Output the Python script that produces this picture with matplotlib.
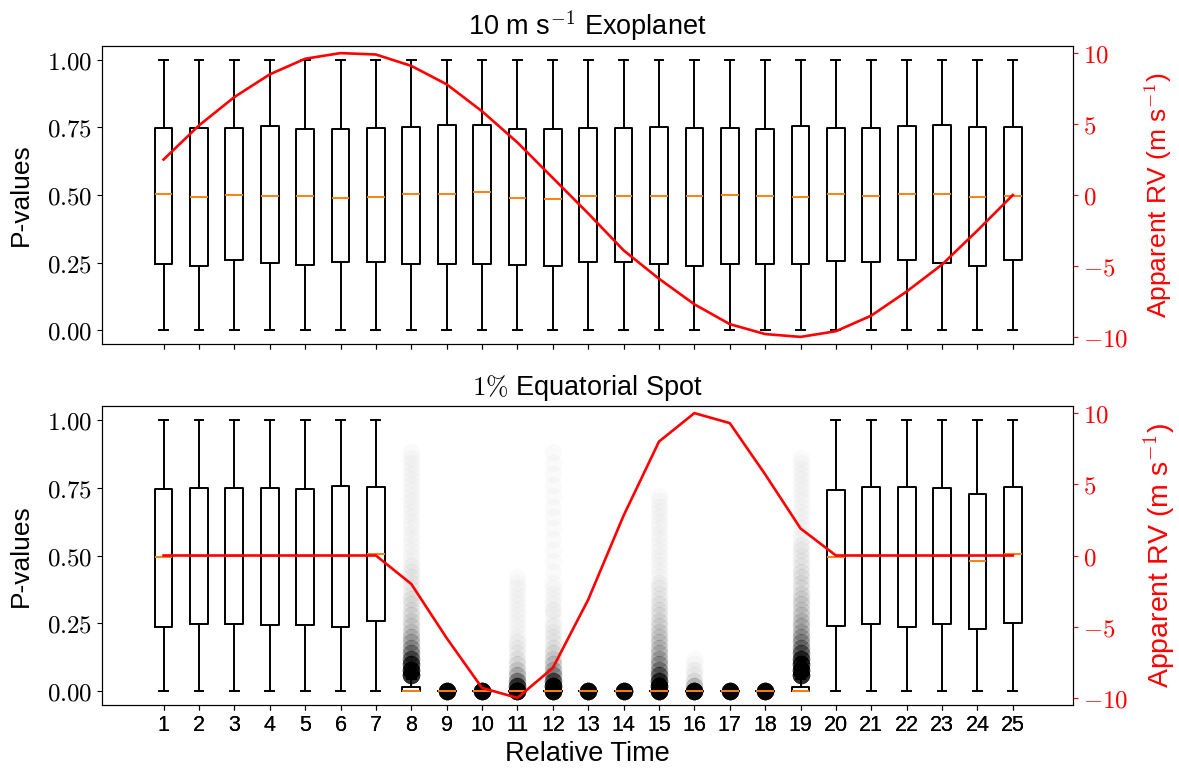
import numpy as np
import matplotlib
matplotlib.use('Agg')
import matplotlib.pyplot as plt
from matplotlib.ticker import FuncFormatter

plt.rcParams['mathtext.fontset'] = 'cm'
plt.rcParams['font.family'] = ['Liberation Sans', 'DejaVu Sans']

times = list(range(1, 26))

# 10 m/s planet: p-value quartiles per epoch, and the injected RV signal
planet_q1 = [0.244, 0.238, 0.259, 0.249, 0.241, 0.251, 0.254, 0.244, 0.246, 0.247,
             0.241, 0.238, 0.252, 0.254, 0.244, 0.238, 0.244, 0.247, 0.247, 0.256,
             0.252, 0.259, 0.249, 0.237, 0.260]
planet_med = [0.505, 0.494, 0.500, 0.496, 0.498, 0.488, 0.494, 0.502, 0.502, 0.510,
              0.490, 0.485, 0.498, 0.495, 0.495, 0.498, 0.500, 0.495, 0.491, 0.502,
              0.498, 0.502, 0.502, 0.493, 0.498]
planet_q3 = [0.749, 0.746, 0.749, 0.753, 0.744, 0.744, 0.748, 0.751, 0.757, 0.759,
             0.743, 0.744, 0.749, 0.747, 0.752, 0.749, 0.748, 0.744, 0.753, 0.749,
             0.747, 0.753, 0.759, 0.751, 0.751]
planet_rv = [2.5, 4.9, 6.9, 8.5, 9.6, 10.0, 9.9, 9.1, 7.8, 5.9, 3.7, 1.2, -1.3,
             -3.9, -5.9, -7.7, -9.1, -9.8, -10.0, -9.6, -8.5, -6.8, -4.9, -2.5, 0.0]

# 1% equatorial spot
spot_q1 = [0.238, 0.247, 0.247, 0.244, 0.243, 0.237, 0.259, 0.0, 0.0, 0.0,
           0.0, 0.0, 0.0, 0.0, 0.0, 0.0, 0.0, 0.0, 0.0, 0.241,
           0.248, 0.238, 0.247, 0.228, 0.252]
spot_med = [0.494, 0.500, 0.500, 0.500, 0.500, 0.500, 0.504, 0.002, 0.0, 0.0,
            0.0, 0.0, 0.0, 0.0, 0.0, 0.0, 0.0, 0.0, 0.002, 0.494,
            0.500, 0.498, 0.498, 0.478, 0.505]
spot_q3 = [0.743, 0.748, 0.748, 0.748, 0.746, 0.757, 0.753, 0.016, 0.0, 0.0,
           0.0, 0.0, 0.0, 0.0, 0.0, 0.0, 0.0, 0.0, 0.016, 0.740,
           0.751, 0.753, 0.748, 0.728, 0.753]
spot_whishi = [1.0, 1.0, 1.0, 1.0, 1.0, 1.0, 1.0, 0.045, 0.0, 0.0,
               0.0, 0.0, 0.0, 0.0, 0.0, 0.0, 0.0, 0.0, 0.045, 1.0,
               1.0, 1.0, 1.0, 1.0, 1.0]
spot_rv = [0.0, 0.0, 0.0, 0.0, 0.0, 0.0, 0.0, -2.0, -5.8, -9.3, -10.0, -7.9, -3.1,
           2.8, 8.0, 10.0, 9.3, 5.7, 1.9, 0.0, 0.0, 0.0, 0.0, 0.0, 0.0]

# outlier p-values, binned: number of outliers in each bin
flier_bins = [0.00, 0.02, 0.04, 0.06, 0.08, 0.10, 0.12, 0.14, 0.16, 0.18,
              0.20, 0.22, 0.24, 0.26, 0.28, 0.30, 0.32, 0.34, 0.36, 0.38,
              0.40, 0.42, 0.44, 0.46, 0.48, 0.50, 0.52, 0.54, 0.56, 0.58,
              0.60, 0.62, 0.64, 0.66, 0.68, 0.70, 0.72, 0.74, 0.76, 0.78,
              0.80, 0.82, 0.84, 0.86, 0.88]
spot_flier_counts = {
    8: [0, 0, 0, 70, 60, 45, 28, 18, 13, 10, 8, 6, 5, 4, 4, 3, 3, 3, 2, 2,
        2, 2, 2, 2, 1, 1, 1, 1, 1, 1, 1, 1, 1, 1, 1, 1, 1, 1, 1, 1,
        1, 1, 1, 1, 1],
    9: [110],
    10: [110],
    11: [110, 45, 20, 10, 6, 4, 3, 2, 2, 2, 1, 1, 1, 1, 1, 1, 1, 1, 1, 1,
         1, 1],
    12: [110, 70, 35, 16, 10, 7, 5, 4, 3, 2, 2, 2, 2, 1, 1, 2, 1, 1, 1, 1,
         1, 0, 1, 0, 1, 0, 1, 0, 1, 0, 1, 0, 1, 0, 1, 0, 1, 0, 1, 0,
         1, 0, 1, 0, 1],
    13: [110],
    14: [110],
    15: [110, 70, 45, 25, 16, 12, 10, 8, 7, 6, 5, 5, 4, 4, 3, 3, 3, 2, 2, 2,
         2, 1, 1, 1, 1, 1, 1, 1, 1, 1, 1, 1, 1, 1, 1, 1, 1],
    16: [110, 10, 4, 2, 2, 1, 1],
    17: [110],
    18: [110],
    19: [0, 0, 0, 75, 65, 55, 42, 26, 18, 14, 11, 9, 8, 7, 6, 5, 5, 4, 4, 3,
         3, 3, 3, 2, 2, 2, 2, 2, 1, 1, 1, 1, 1, 1, 1, 1, 1, 1, 1, 1,
         1, 1, 1, 1],
}


def make_stats(q1, med, q3, whishi, fliers):
    stats = []
    for i, t in enumerate(times):
        counts = fliers.get(t, [])
        stats.append(dict(label=str(t), q1=q1[i], med=med[i], q3=q3[i],
                          whislo=0.0, whishi=whishi[i],
                          fliers=np.repeat(flier_bins[:len(counts)], counts)))
    return stats


box_style = dict(
    widths=0.5,
    boxprops=dict(color='k', linewidth=1.4),
    whiskerprops=dict(color='k', linewidth=1.4),
    capprops=dict(color='k', linewidth=1.4),
    medianprops=dict(color='#ff7f0e', linewidth=1.4),
    flierprops=dict(marker='o', markerfacecolor='k', markeredgecolor='none',
                    markersize=12.5, alpha=0.02),
)

fig = plt.figure(figsize=(11.79, 7.7), dpi=100)
ax1 = fig.add_axes([102 / 1179, 426 / 770, 971 / 1179, 298 / 770])
ax2 = fig.add_axes([102 / 1179, 65 / 770, 971 / 1179, 299 / 770], sharex=ax1)

ax1.bxp(make_stats(planet_q1, planet_med, planet_q3, [1.0] * 25, {}),
        positions=times, **box_style)
ax2.bxp(make_stats(spot_q1, spot_med, spot_q3, spot_whishi, spot_flier_counts),
        positions=times, **box_style)

pfmt = FuncFormatter(lambda v, p: r'$%.2f$' % v)
rvfmt = FuncFormatter(lambda v, p: r'$%d$' % v)

for ax, rv, title, rv_size in [(ax1, planet_rv, r'10 m s$^{-1}$ Exoplanet', 19),
                               (ax2, spot_rv, r'$1\%$ Equatorial Spot', 20.5)]:
    ax.set_ylim(-0.05, 1.05)
    ax.set_yticks([0, 0.25, 0.5, 0.75, 1.0])
    ax.yaxis.set_major_formatter(pfmt)
    ax.tick_params(axis='y', labelsize=18)
    ax.tick_params(axis='x', labelsize=15.5)
    ax.set_ylabel('P-values', fontsize=19, labelpad=10)
    ax.set_title(title, fontsize=19.5, pad=8)

    axr = ax.twinx()
    axr.plot(times, rv, color='red', linewidth=1.9)
    axr.set_ylim(-10.5, 10.5)
    axr.set_yticks([-10, -5, 0, 5, 10])
    axr.yaxis.set_major_formatter(rvfmt)
    axr.tick_params(axis='y', colors='red', labelsize=18)
    axr.set_ylabel(r'Apparent RV (m s$^{-1}$)', color='red', fontsize=rv_size,
                   labelpad=10)

ax1.set_xlim(-0.74, 26.7)
ax1.tick_params(axis='x', labelbottom=False)
ax2.set_xlabel('Relative Time', fontsize=19.5)

fig.savefig('out.png', dpi=100)
